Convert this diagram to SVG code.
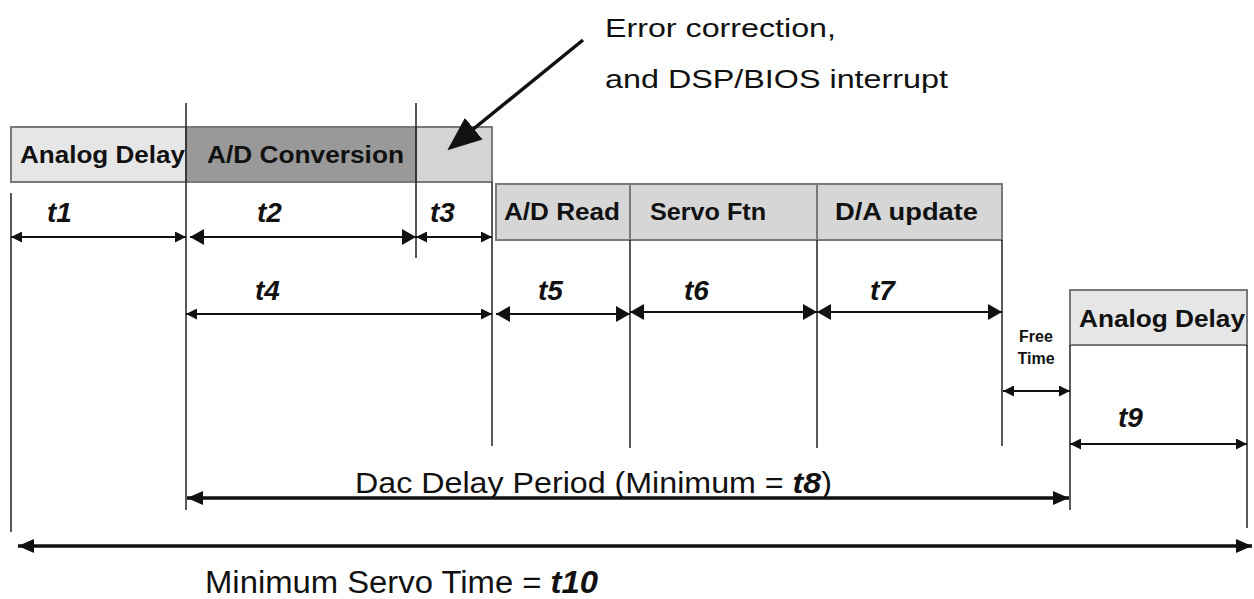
<svg xmlns="http://www.w3.org/2000/svg" width="1254" height="599" viewBox="0 0 1254 599">
<style>
.box{stroke:#7a7a7a;stroke-width:2}
.lbl{font-family:"Liberation Sans",Arial,sans-serif;font-weight:bold;font-size:23px;fill:#111}
.t{font-family:"Liberation Sans",Arial,sans-serif;font-weight:bold;font-style:italic;font-size:28px;fill:#111}
.vl{stroke:#222;stroke-width:1.5;fill:none}
.dim{stroke:#111;stroke-width:2;fill:none;marker-start:url(#ah);marker-end:url(#ah)}
.dimb{stroke:#111;stroke-width:2;fill:none;marker-start:url(#ahb);marker-end:url(#ahb)}
.dimt{stroke:#111;stroke-width:3.5;fill:none;marker-start:url(#aht);marker-end:url(#aht)}
.note{font-family:"Liberation Sans",Arial,sans-serif;font-size:26px;fill:#111}
.ft{font-family:"Liberation Sans",Arial,sans-serif;font-weight:bold;font-size:16px;fill:#111}
</style>
<defs>
<marker id="ah" viewBox="0 0 10 10" refX="10" refY="5" markerWidth="11" markerHeight="11" markerUnits="userSpaceOnUse" orient="auto-start-reverse"><path d="M0,0 L10,5 L0,10 Z" fill="#111"/></marker>
<marker id="ahb" viewBox="0 0 10 10" refX="10" refY="5" markerWidth="14" markerHeight="16" markerUnits="userSpaceOnUse" orient="auto-start-reverse" preserveAspectRatio="none"><path d="M0,0 L10,5 L0,10 Z" fill="#111"/></marker>
<marker id="aht" viewBox="0 0 10 10" refX="10" refY="5" markerWidth="16" markerHeight="14" markerUnits="userSpaceOnUse" orient="auto-start-reverse" preserveAspectRatio="none"><path d="M0,0 L10,5 L0,10 Z" fill="#111"/></marker>
<marker id="ptr" viewBox="0 0 10 10" refX="9" refY="5" markerWidth="34" markerHeight="28" markerUnits="userSpaceOnUse" orient="auto" preserveAspectRatio="none"><path d="M0,0 L10,5 L0,10 Z" fill="#111"/></marker>
</defs>

<g id="node-analog-delay-1">
<rect class="box" x="11" y="127" width="175" height="55" fill="#e6e6e6"/>
<text class="lbl" x="20" y="163" textLength="165" lengthAdjust="spacingAndGlyphs">Analog Delay</text>
</g>
<g id="node-ad-conversion">
<rect class="box" x="186" y="127" width="230" height="55" fill="#999999"/>
<text class="lbl" x="207" y="163" textLength="197" lengthAdjust="spacingAndGlyphs">A/D Conversion</text>
</g>
<g id="node-error-correction">
<rect class="box" x="416" y="127" width="76" height="55" fill="#d4d4d4"/>
</g>
<g id="node-ad-read">
<rect class="box" x="496" y="184" width="134" height="56" fill="#d6d6d6"/>
<text class="lbl" x="504" y="220" textLength="116" lengthAdjust="spacingAndGlyphs">A/D Read</text>
</g>
<g id="node-servo-ftn">
<rect class="box" x="630" y="184" width="187" height="56" fill="#d6d6d6"/>
<text class="lbl" x="650" y="220" textLength="116" lengthAdjust="spacingAndGlyphs">Servo Ftn</text>
</g>
<g id="node-da-update">
<rect class="box" x="817" y="184" width="185" height="56" fill="#d6d6d6"/>
<text class="lbl" x="835" y="220" textLength="143" lengthAdjust="spacingAndGlyphs">D/A update</text>
</g>
<g id="node-analog-delay-2">
<rect class="box" x="1070" y="290" width="177" height="55" fill="#e6e6e6"/>
<text class="lbl" x="1079" y="327" textLength="166" lengthAdjust="spacingAndGlyphs">Analog Delay</text>
</g>
<g id="node-note">
<text class="note" x="605" y="37" textLength="231" lengthAdjust="spacingAndGlyphs">Error correction,</text>
<text class="note" x="605" y="88" textLength="343" lengthAdjust="spacingAndGlyphs">and DSP/BIOS interrupt</text>
</g>

<g id="connectors">
<line class="vl" x1="11" y1="193" x2="11" y2="532"/>
<line class="vl" x1="186" y1="103" x2="186" y2="510"/>
<line class="vl" x1="416" y1="103" x2="416" y2="258"/>
<line class="vl" x1="492" y1="182" x2="492" y2="446"/>
<line class="vl" x1="630" y1="240" x2="630" y2="448"/>
<line class="vl" x1="817" y1="240" x2="817" y2="448"/>
<line class="vl" x1="1002" y1="240" x2="1002" y2="446"/>
<line class="vl" x1="1070" y1="345" x2="1070" y2="510" stroke="#777"/>
<line class="vl" x1="1247" y1="345" x2="1247" y2="528"/>

<line class="dim" x1="11" y1="237" x2="186" y2="237"/>
<line class="dimb" x1="190" y1="237" x2="416" y2="237"/>
<line class="dim" x1="416" y1="237" x2="492" y2="237"/>
<line class="dim" x1="186" y1="314" x2="492" y2="314"/>
<line class="dimb" x1="496" y1="314" x2="630" y2="314"/>
<line class="dimb" x1="630" y1="312" x2="817" y2="312"/>
<line class="dimb" x1="817" y1="312" x2="1002" y2="312"/>
<line class="dim" x1="1003" y1="391" x2="1070" y2="391"/>
<line class="dim" x1="1070" y1="444" x2="1247" y2="444"/>
<line class="dimt" x1="187" y1="498" x2="1069" y2="498"/>
<line class="dimt" x1="18" y1="546" x2="1252" y2="546"/>
<line x1="583" y1="40" x2="450" y2="148" stroke="#111" stroke-width="3.5" marker-end="url(#ptr)"/>
</g>

<g id="labels">
<text class="t" x="47" y="222">t1</text>
<text class="t" x="257" y="222">t2</text>
<text class="t" x="430" y="222">t3</text>
<text class="t" x="255" y="300">t4</text>
<text class="t" x="538" y="300">t5</text>
<text class="t" x="684" y="300">t6</text>
<text class="t" x="870" y="300">t7</text>
<text class="t" x="1118" y="427">t9</text>
<text class="ft" x="1036" y="342" text-anchor="middle">Free</text>
<text class="ft" x="1036" y="364" text-anchor="middle">Time</text>
<text x="355" y="493" font-family="Liberation Sans, Arial, sans-serif" font-size="29" fill="#111" textLength="477" lengthAdjust="spacingAndGlyphs">Dac Delay Period (Minimum = <tspan font-weight="bold" font-style="italic">t8</tspan>)</text>
<text x="205" y="593" font-family="Liberation Sans, Arial, sans-serif" font-size="31" fill="#111" textLength="393" lengthAdjust="spacingAndGlyphs">Minimum Servo Time = <tspan font-weight="bold" font-style="italic">t10</tspan></text>
</g>
</svg>
